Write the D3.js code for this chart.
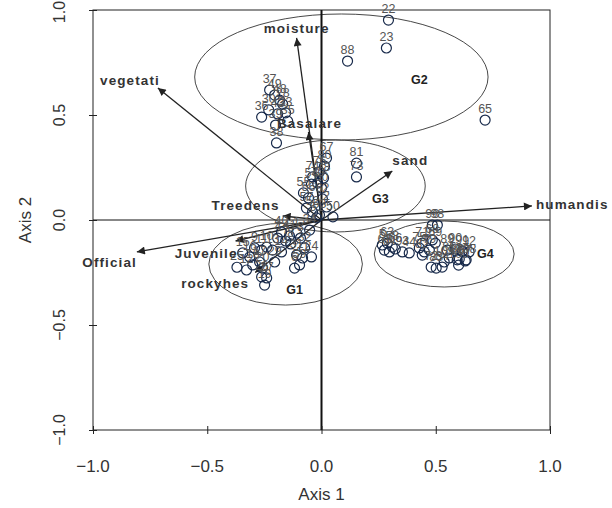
<!DOCTYPE html>
<html>
<head>
<meta charset="utf-8">
<script src="https://cdn.jsdelivr.net/npm/d3@7"></script>
<style>
  body { margin: 0; background: #fff; }
  text { font-family: "Liberation Sans", Arial, sans-serif; }
</style>
</head>
<body>
<svg id="chart" width="612" height="508"></svg>
<script>
// site scores (axis 1, axis 2)
const siteIds = [
  22, 23, 88, 65, 37, 49, 48, 28, 30, 36, 33, 43, 39, 35, 38,
  67, 81, 73, 80, 74, 76, 78, 70, 54, 60, 55, 56, 2, 62, 57, 52, 50, 53, 51,
  1, 3, 4, 7, 8, 10, 11, 13, 14, 15, 16, 17, 18, 20, 31, 21, 24, 59, 26, 27, 19, 25, 12, 29, 32, 34, 6, 40, 41, 9,
  96, 98, 5, 63, 58, 61, 64, 66, 68, 69, 71, 75, 77, 79, 82, 72, 83, 84, 85, 86, 87, 89, 90, 91, 92, 100, 104, 108, 109, 93, 44
];
const siteAxis1 = [
  0.293, 0.284, 0.114, 0.716, -0.227, -0.205, -0.183, -0.170, -0.231, -0.262, -0.157, -0.192, -0.201, -0.148, -0.197,
  0.022, 0.153, 0.153, 0.013, -0.039, -0.009, 0.009, -0.017, -0.044, 0.000, -0.079, -0.057, 0.022, 0.004, -0.066, -0.039, 0.050, -0.009, -0.022,
  -0.109, -0.092, -0.192, -0.157, -0.135, -0.240, -0.262, -0.214, -0.175, -0.345, -0.314, -0.271, -0.301, -0.258, -0.109, -0.083, -0.044, -0.096, -0.262, -0.240, -0.249, -0.370, -0.328, -0.205, -0.074, -0.052, -0.118, -0.175, -0.140, -0.293,
  0.485, 0.507, 0.266, 0.288, 0.310, 0.275, 0.297, 0.323, 0.485, 0.498, 0.441, 0.428, 0.450, 0.472, 0.441, 0.480, 0.502, 0.528, 0.559, 0.594, 0.629, 0.550, 0.585, 0.616, 0.646, 0.600, 0.603, 0.633, 0.537, 0.354, 0.384
];
const siteAxis2 = [
  0.952, 0.819, 0.757, 0.476, 0.619, 0.595, 0.571, 0.552, 0.524, 0.490, 0.510, 0.505, 0.452, 0.471, 0.367,
  0.295, 0.271, 0.205, 0.257, 0.205, 0.229, 0.200, 0.176, 0.171, 0.152, 0.129, 0.105, 0.062, 0.100, 0.057, 0.038, 0.015, 0.024, 0.010,
  -0.062, -0.086, -0.086, -0.100, -0.114, -0.129, -0.143, -0.143, -0.152, -0.157, -0.176, -0.200, -0.214, -0.229, -0.167, -0.181, -0.176, -0.214, -0.271, -0.276, -0.310, -0.225, -0.238, -0.200, -0.133, -0.048, -0.229, -0.057, -0.076, -0.133,
  -0.024, -0.024, -0.119, -0.110, -0.129, -0.143, -0.152, -0.138, -0.095, -0.110, -0.110, -0.133, -0.152, -0.143, -0.167, -0.224, -0.229, -0.224, -0.181, -0.190, -0.195, -0.143, -0.138, -0.148, -0.152, -0.215, -0.186, -0.190, -0.200, -0.152, -0.157
];

// environmental vectors
const varNames = ["moisture", "vegetati", "Basalare", "sand", "humandis", "Treedens", "Official", "Juvenile", "rockyhes"];
const varAxis1 = [-0.109, -0.716, -0.057, 0.310, 0.921, -0.170, -0.808, -0.376, -0.290];
const varAxis2 = [0.867, 0.629, 0.419, 0.233, 0.067, 0.019, -0.152, -0.100, -0.250];

// groups (ellipse centre and radii on the axes)
const groupNames = ["G1", "G2", "G3", "G4"];
const groupCx = [-0.157, 0.087, 0.061, 0.537];
const groupCy = [-0.210, 0.681, 0.162, -0.162];
const groupRx = [0.336, 0.642, 0.393, 0.306];
const groupRy = [0.195, 0.300, 0.219, 0.157];
const groupLabelAxis1 = [-0.118, 0.428, 0.258, 0.717];
const groupLabelAxis2 = [-0.333, 0.667, 0.100, -0.162];

const axisTicks = [-1.0, -0.5, 0.0, 0.5, 1.0];

const svg = d3.select("#chart");
const plotLeft = 93, plotRight = 550, plotTop = 10, plotBottom = 430;

const x = d3.scaleLinear().domain([-1, 1]).range([plotLeft, plotRight]);
const y = d3.scaleLinear().domain([-1, 1]).range([plotBottom, plotTop]);

// ellipses
const groups = groupNames.map((g, i) => ({
  name: g, cx: groupCx[i], cy: groupCy[i], rx: groupRx[i], ry: groupRy[i],
  lx: groupLabelAxis1[i], ly: groupLabelAxis2[i]
}));
svg.append("g").selectAll("ellipse")
  .data(groups)
  .enter()
  .append("ellipse")
  .attr("cx", d => x(d.cx))
  .attr("cy", d => y(d.cy))
  .attr("rx", d => x(d.rx) - x(0))
  .attr("ry", d => y(0) - y(d.ry))
  .attr("fill", "none")
  .attr("stroke", "#333")
  .attr("stroke-width", 0.9);

// frame
svg.append("rect")
  .attr("x", plotLeft).attr("y", plotTop)
  .attr("width", plotRight - plotLeft).attr("height", plotBottom - plotTop)
  .attr("fill", "none").attr("stroke", "#222").attr("stroke-width", 1);

// zero lines
svg.append("line")
  .attr("x1", plotLeft).attr("x2", plotRight)
  .attr("y1", y(0)).attr("y2", y(0))
  .attr("stroke", "#111").attr("stroke-width", 1);
svg.append("line")
  .attr("x1", x(0)).attr("x2", x(0))
  .attr("y1", plotTop).attr("y2", plotBottom)
  .attr("stroke", "#111").attr("stroke-width", 2);

// axes, ticks crossing the frame
function styleAxis(g) {
  g.select(".domain").remove();
  g.selectAll("line").attr("stroke", "#222");
}
svg.append("g").attr("transform", `translate(0,${plotBottom})`)
  .call(d3.axisBottom(x).tickValues(axisTicks).tickSize(4).tickFormat(""))
  .call(styleAxis);
svg.append("g").attr("transform", `translate(0,${plotBottom})`)
  .call(d3.axisBottom(x).tickValues(axisTicks).tickSize(-4).tickFormat(""))
  .call(styleAxis);
svg.append("g").attr("transform", `translate(${plotLeft},0)`)
  .call(d3.axisLeft(y).tickValues(axisTicks).tickSize(4).tickFormat(""))
  .call(styleAxis);
svg.append("g").attr("transform", `translate(${plotLeft},0)`)
  .call(d3.axisLeft(y).tickValues(axisTicks).tickSize(-4).tickFormat(""))
  .call(styleAxis);

// tick labels
svg.append("g").selectAll("text")
  .data(axisTicks)
  .enter()
  .append("text")
  .attr("x", d => x(d))
  .attr("y", 472)
  .attr("text-anchor", "middle")
  .style("font-size", "17px")
  .attr("fill", "#333")
  .text(d3.format(".1f"));
svg.append("g").selectAll("text")
  .data(axisTicks)
  .enter()
  .append("text")
  .attr("transform", d => `translate(${plotLeft - 34},${Math.max(y(d), 12)}) rotate(-90)`)
  .attr("dy", "0.35em")
  .attr("text-anchor", "middle")
  .style("font-size", "16px")
  .attr("fill", "#333")
  .text(d3.format(".1f"));

// axis titles
svg.append("text")
  .attr("x", x(0)).attr("y", 500)
  .attr("text-anchor", "middle")
  .style("font-size", "17px")
  .attr("fill", "#333")
  .text("Axis 1");
svg.append("text")
  .attr("transform", `translate(25,${y(0)}) rotate(-90)`)
  .attr("dy", "0.35em")
  .attr("text-anchor", "middle")
  .style("font-size", "17px")
  .attr("fill", "#333")
  .text("Axis 2");

// arrows
svg.append("defs").append("marker")
  .attr("id", "head")
  .attr("viewBox", "0 0 10 10")
  .attr("refX", 10).attr("refY", 5)
  .attr("markerWidth", 11).attr("markerHeight", 8)
  .attr("markerUnits", "userSpaceOnUse")
  .attr("orient", "auto")
  .append("path")
  .attr("d", "M0,0 L10,5 L0,10 Z")
  .attr("fill", "#222");

const vars = varNames.map((n, i) => ({ name: n, a1: varAxis1[i], a2: varAxis2[i] }));
svg.append("g").selectAll("line")
  .data(vars)
  .enter()
  .append("line")
  .attr("x1", x(0)).attr("y1", y(0))
  .attr("x2", d => x(d.a1)).attr("y2", d => y(d.a2))
  .attr("stroke", "#222")
  .attr("stroke-width", 1.3)
  .attr("marker-end", "url(#head)");

// sites
const sites = siteIds.map((id, i) => ({ id: id, a1: siteAxis1[i], a2: siteAxis2[i] }));
svg.append("g").selectAll("circle")
  .data(sites)
  .enter()
  .append("circle")
  .attr("cx", d => x(d.a1))
  .attr("cy", d => y(d.a2))
  .attr("r", 5)
  .attr("fill", "none")
  .attr("stroke", "#17294a")
  .attr("stroke-width", 1.2);
svg.append("g").selectAll("text")
  .data(sites)
  .enter()
  .append("text")
  .attr("x", d => x(d.a1))
  .attr("y", d => y(d.a2) - 7)
  .attr("text-anchor", "middle")
  .style("font-size", "12.5px")
  .attr("fill", "#555")
  .text(d => d.id);

// vector labels
const varLabel = {
  moisture: ["middle", 0, -5],
  vegetati: ["end", 2, -3],
  Basalare: ["middle", 1, -4],
  sand: ["start", 0, -6],
  humandis: ["start", 4, 3],
  Treedens: ["end", -3, -6],
  Official: ["end", 0, 15],
  Juvenile: ["end", 2, 17],
  rockyhes: ["end", -6, 15]
};
svg.append("g").selectAll("text")
  .data(vars)
  .enter()
  .append("text")
  .attr("x", d => x(d.a1) + varLabel[d.name][1])
  .attr("y", d => y(d.a2) + varLabel[d.name][2])
  .attr("text-anchor", d => varLabel[d.name][0])
  .style("font-size", "13.5px")
  .style("font-weight", "bold")
  .style("letter-spacing", "1.1px")
  .attr("fill", "#333")
  .text(d => d.name);

// group labels
svg.append("g").selectAll("text")
  .data(groups)
  .enter()
  .append("text")
  .attr("x", d => x(d.lx))
  .attr("y", d => y(d.ly))
  .attr("dy", "0.35em")
  .attr("text-anchor", "middle")
  .style("font-size", "12.5px")
  .style("font-weight", "bold")
  .attr("fill", "#222")
  .text(d => d.name);
</script>
</body>
</html>
